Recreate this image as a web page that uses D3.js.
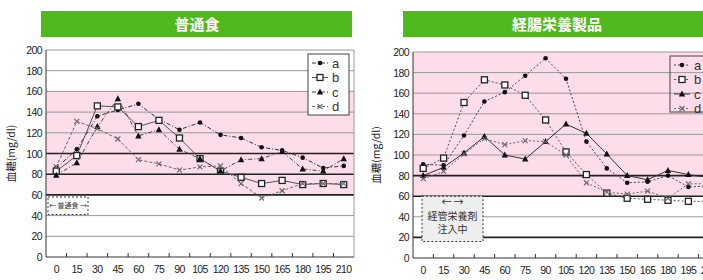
<!DOCTYPE html>
<html>
<head>
<meta charset="utf-8">
<script src="https://cdn.jsdelivr.net/npm/d3@7"></script>
<style>
  body { margin: 0; background: #fff; }
  svg { display: block; }
  text { font-family: "Liberation Sans Narrow", "Liberation Sans", "Noto Sans CJK JP", sans-serif; }
  .jp { font-family: "Noto Sans CJK JP", sans-serif; }
  .tick { letter-spacing: -0.6px; }
</style>
</head>
<body>
<div id="chart"></div>
<script>
// time after meal (min)
const times = [0, 15, 30, 45, 60, 75, 90, 105, 120, 135, 150, 165, 180, 195, 210];
const yTicks = [0, 20, 40, 60, 80, 100, 120, 140, 160, 180, 200];
const seriesNames = ["a", "b", "c", "d"];

// 普通食
const normalA = [86, 104, 136, 142, 148, 133, 123, 130, 118, 115, 106, 103, 96, 86, 88];
const normalB = [83, 98, 146, 145, 126, 132, 115, 95, 83, 77, 71, 74, 70, 71, 70];
const normalC = [79, 91, 126, 153, 117, 123, 104, 95, 83, 94, 95, 102, 85, 83, 95];
const normalD = [87, 131, 124, 114, 94, 90, 84, 87, 88, 71, 57, 64, 71, 71, 71];

// 経腸栄養製品
const enteralA = [91, 90, 119, 152, 161, 177, 194, 174, 113, 87, 73, 74, 80, 69, 70];
const enteralB = [87, 97, 151, 173, 168, 158, 134, 103, 81, 63, 58, 57, 56, 55, 55];
const enteralC = [80, 88, 102, 118, 100, 96, 113, 130, 121, 101, 80, 76, 85, 81, 78];
const enteralD = [77, 84, 101, 116, 110, 114, 113, 100, 73, 64, 62, 65, 58, 72, 72];

const W = 703, H = 280;
const svg = d3.select("#chart").append("svg").attr("width", W).attr("height", H);

const pink = "#fcdde9";
const green = "#4fb81c";

function drawPanel(cfg) {
  const x = d3.scaleBand().domain(times).range([cfg.left, cfg.right]);
  const y = d3.scaleLinear().domain([0, 200]).range([cfg.bottom, cfg.top]);
  const cx = t => x(t) + x.bandwidth() / 2;
  const g = svg.append("g");

  // title bar
  g.append("rect").attr("x", cfg.titleX0).attr("y", 11)
    .attr("width", cfg.titleX1 - cfg.titleX0).attr("height", 26).attr("fill", green);
  g.append("text").attr("class", "jp").attr("x", cfg.titleCx).attr("y", 30)
    .attr("text-anchor", "middle").attr("fill", "#fff").attr("font-size", 15)
    .attr("font-weight", "bold").text(cfg.title);

  // target band
  g.append("rect").attr("x", cfg.left).attr("width", cfg.right - cfg.left)
    .attr("y", y(cfg.band[1])).attr("height", y(cfg.band[0]) - y(cfg.band[1]))
    .attr("fill", pink);

  // grid
  g.selectAll(".grid").data(yTicks.filter(d => d > 0)).join("line")
    .attr("x1", cfg.left).attr("x2", cfg.right)
    .attr("y1", d => y(d)).attr("y2", d => y(d))
    .attr("stroke", d => cfg.dark.includes(d) ? "#222" : "#999")
    .attr("stroke-width", d => cfg.dark.includes(d) ? 1.6 : 1);

  // axes frame
  g.append("line").attr("x1", cfg.left).attr("x2", cfg.left)
    .attr("y1", cfg.top).attr("y2", cfg.bottom).attr("stroke", "#333");
  g.append("line").attr("x1", cfg.left).attr("x2", cfg.right)
    .attr("y1", cfg.bottom).attr("y2", cfg.bottom).attr("stroke", "#333");
  g.append("line").attr("x1", cfg.right).attr("x2", cfg.right)
    .attr("y1", cfg.top).attr("y2", cfg.bottom).attr("stroke", "#999");

  // ticks between categories, pointing inward
  g.selectAll(".xt").data(times.slice(1)).join("line")
    .attr("x1", d => x(d)).attr("x2", d => x(d))
    .attr("y1", cfg.bottom).attr("y2", cfg.bottom - 4).attr("stroke", "#333");

  g.selectAll(".xl").data(times).join("text").attr("class", "tick")
    .attr("x", d => cx(d)).attr("y", cfg.bottom + 16)
    .attr("text-anchor", "middle").attr("font-size", 10.5).attr("fill", "#222")
    .text(d => d);
  g.selectAll(".yl").data(yTicks).join("text").attr("class", "tick")
    .attr("x", cfg.left - 4).attr("y", d => y(d) + 4)
    .attr("text-anchor", "end").attr("font-size", 10.5).attr("fill", "#222")
    .text(d => d);

  g.append("text").attr("class", "jp")
    .attr("transform", `translate(${cfg.yTitleX},${(cfg.top + cfg.bottom) / 2}) rotate(-90)`)
    .attr("text-anchor", "middle").attr("font-size", 10.5).attr("fill", "#222")
    .text("血糖(mg/dl)");

  // annotation box
  const a = cfg.note;
  g.append("rect").attr("x", a.x).attr("y", y(a.v1)).attr("width", a.w)
    .attr("height", y(a.v0) - y(a.v1)).attr("fill", a.fill)
    .attr("stroke", "#333").attr("stroke-dasharray", "2,2");
  a.lines.forEach((s, i) => {
    g.append("text").attr("class", "jp").attr("x", a.x + a.w / 2)
      .attr("y", y(a.v1) + a.dy + i * a.lh).attr("text-anchor", "middle")
      .attr("font-size", a.fs).attr("fill", "#333").text(s);
  });

  // series
  const line = d3.line().x((d, i) => cx(times[i])).y(d => y(d));
  cfg.series.forEach((vals, k) => {
    const st = cfg.styles[k];
    g.append("path").datum(vals).attr("d", line).attr("fill", "none")
      .attr("stroke", st.color).attr("stroke-width", 1)
      .attr("stroke-dasharray", st.dash);
    vals.forEach((v, i) => marker(g, st.mark, cx(times[i]), y(v), st.color));
  });

  // legend
  const L = cfg.legend;
  g.append("rect").attr("x", L.x).attr("y", L.y).attr("width", L.w).attr("height", L.h)
    .attr("fill", L.fill).attr("stroke", "#444");
  seriesNames.forEach((n, k) => {
    const st = cfg.styles[k];
    const ly = L.y + 9 + k * 14.5;
    g.append("line").attr("x1", L.x + 4).attr("x2", L.x + 20).attr("y1", ly).attr("y2", ly)
      .attr("stroke", st.color).attr("stroke-dasharray", st.dash);
    marker(g, st.mark, L.x + 12, ly, st.color);
    g.append("text").attr("x", L.x + 24).attr("y", ly + 4.5)
      .attr("font-size", 13).attr("fill", "#333").text(n);
  });
}

function marker(g, type, px, py, color) {
  if (type === "circle") {
    g.append("circle").attr("cx", px).attr("cy", py).attr("r", 2.3).attr("fill", "#111");
  } else if (type === "square") {
    g.append("rect").attr("x", px - 3).attr("y", py - 3).attr("width", 6).attr("height", 6)
      .attr("fill", "#fff").attr("stroke", "#222").attr("stroke-width", 1.3);
  } else if (type === "triangle") {
    g.append("path").attr("d", `M${px},${py - 3.5}L${px + 3.2},${py + 2.5}L${px - 3.2},${py + 2.5}Z`)
      .attr("fill", "#111");
  } else {
    g.append("path").attr("d", `M${px - 2.5},${py - 2.5}L${px + 2.5},${py + 2.5}M${px - 2.5},${py + 2.5}L${px + 2.5},${py - 2.5}`)
      .attr("stroke", color).attr("stroke-width", 1.1);
  }
}

drawPanel({
  title: "普通食", titleX0: 41, titleX1: 352, titleCx: 197,
  left: 46, right: 354, top: 50, bottom: 257, yTitleX: 15,
  band: [60, 160], dark: [60, 80, 100],
  series: [normalA, normalB, normalC, normalD],
  styles: [
    { mark: "circle", dash: "4,2,1,2", color: "#333" },
    { mark: "square", dash: null, color: "#555" },
    { mark: "triangle", dash: "4,2,1,2", color: "#444" },
    { mark: "cross", dash: "3,2", color: "#666" }
  ],
  legend: { x: 308, y: 54, w: 41, h: 61, fill: "#fff" },
  note: { x: 48, w: 40, v0: 41, v1: 58, fill: "#fff", lines: ["← 普通食 →"], dy: 11, lh: 0, fs: 7 }
});

drawPanel({
  title: "経腸栄養製品", titleX0: 403, titleX1: 712, titleCx: 557,
  left: 413, right: 719, top: 52, bottom: 258, yTitleX: 380,
  band: [60, 200], dark: [20, 60, 80],
  series: [enteralA, enteralB, enteralC, enteralD],
  styles: [
    { mark: "circle", dash: "2,2", color: "#444" },
    { mark: "square", dash: "2,2", color: "#555" },
    { mark: "triangle", dash: null, color: "#333" },
    { mark: "cross", dash: "2,2", color: "#666" }
  ],
  legend: { x: 670, y: 56, w: 45, h: 56, fill: "none" },
  note: { x: 422, w: 61, v0: 16, v1: 60, fill: "#eee", lines: ["← →", "経管栄養剤", "注入中"], dy: 10, lh: 13.5, fs: 10 }
});
</script>
</body>
</html>
